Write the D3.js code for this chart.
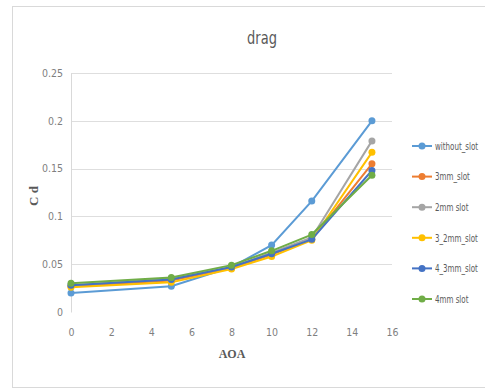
<!DOCTYPE html>
<html>
<head>
<meta charset="utf-8">
<script src="https://cdn.jsdelivr.net/npm/d3@7"></script>
<style>
  body { margin: 0; background: #fff; }
  svg text { font-family: "Liberation Sans Narrow", "DejaVu Sans Condensed", "Liberation Sans", sans-serif; }
</style>
</head>
<body>
<div id="graph"></div>
<script>
const aoa = [0, 5, 8, 10, 12, 15];
const seriesNames = ["without_slot", "3mm_slot", "2mm_slot", "3_2mm_slot", "4_3mm_slot", "4mm_slot"];
const legendLabels = ["without_slot", "3mm_slot", "2mm  slot", "3_2mm_slot", "4_3mm_slot", "4mm  slot"];
const withoutSlot = [0.020, 0.027, 0.047, 0.070, 0.116, 0.200];
const slot3mm     = [0.027, 0.033, 0.046, 0.060, 0.076, 0.155];
const slot2mm     = [0.028, 0.035, 0.047, 0.062, 0.078, 0.179];
const slot3_2mm   = [0.026, 0.031, 0.045, 0.058, 0.075, 0.167];
const slot4_3mm   = [0.028, 0.034, 0.047, 0.061, 0.076, 0.148];
const slot4mm     = [0.030, 0.036, 0.049, 0.064, 0.081, 0.143];
const colors = ["#5b9bd5", "#ed7d31", "#a5a5a5", "#ffc000", "#4472c4", "#70ad47"];
const xTicks = [0, 2, 4, 6, 8, 10, 12, 14, 16];
const yTicks = [0, 0.05, 0.1, 0.15, 0.2, 0.25];

const allValues = [withoutSlot, slot3mm, slot2mm, slot3_2mm, slot4_3mm, slot4mm];
const series = seriesNames.map((name, i) => ({
  name: name,
  label: legendLabels[i],
  color: colors[i],
  points: aoa.map((a, j) => ({ x: a, y: allValues[i][j] }))
}));

const width = 485, height = 389;
const margin = { left: 71, right: 94, top: 72, bottom: 77 };

const svg = d3.select("#graph").append("svg")
  .attr("width", width)
  .attr("height", height);

// chart frame
svg.append("rect")
  .attr("x", 12.5).attr("y", 6.5)
  .attr("width", 480).attr("height", 381)
  .attr("fill", "#fff")
  .attr("stroke", "#d9d9d9");

const x = d3.scaleLinear().domain([0, 16]).range([margin.left, width - margin.right + 1]);
const y = d3.scaleLinear().domain([0, 0.25]).range([height - margin.bottom, margin.top + 1]);

// gridlines
svg.append("g")
  .selectAll("line")
  .data(yTicks.filter(d => d > 0))
  .join("line")
  .attr("x1", x(0)).attr("x2", x(16))
  .attr("y1", d => Math.round(y(d)) + 0.5)
  .attr("y2", d => Math.round(y(d)) + 0.5)
  .attr("stroke", "#dedede");

// y axis
const yAxis = svg.append("g")
  .attr("transform", `translate(${x(0)},0)`)
  .call(d3.axisLeft(y).tickValues(yTicks).tickSize(0).tickPadding(8)
    .tickFormat(d => d3.format("")(+d.toFixed(2))));
yAxis.select(".domain").attr("stroke", "#d9d9d9");
yAxis.selectAll("text").attr("fill", "#7f7f7f").style("font-size", "10.5px");

// x axis
const xAxis = svg.append("g")
  .attr("transform", `translate(0,${y(0) + 14})`)
  .call(d3.axisBottom(x).tickValues(xTicks).tickSize(0));
xAxis.select(".domain").remove();
xAxis.selectAll("text").attr("fill", "#7f7f7f").style("font-size", "10.5px");

// lines and markers
const line = d3.line().x(d => x(d.x)).y(d => y(d.y));
const g = svg.append("g");
series.forEach(s => {
  g.append("path")
    .datum(s.points)
    .attr("d", line)
    .attr("fill", "none")
    .attr("stroke", s.color)
    .attr("stroke-width", 2);
  g.selectAll(null)
    .data(s.points)
    .join("circle")
    .attr("cx", d => x(d.x))
    .attr("cy", d => y(d.y))
    .attr("r", 3.5)
    .attr("fill", s.color);
});

// title
svg.append("text")
  .attr("transform", "translate(262,44) scale(0.85,1)")
  .attr("text-anchor", "middle")
  .style("font-size", "17px")
  .attr("fill", "#595959")
  .text("drag");

// axis titles
svg.append("text")
  .attr("transform", "translate(38,196) rotate(-90)")
  .attr("text-anchor", "middle")
  .style("font-family", "'Liberation Serif', serif")
  .style("font-weight", "bold")
  .style("font-size", "13px")
  .attr("fill", "#595959")
  .text("C d");

svg.append("text")
  .attr("x", 232).attr("y", 358)
  .attr("text-anchor", "middle")
  .style("font-family", "'Liberation Serif', serif")
  .style("font-weight", "bold")
  .style("font-size", "12px")
  .attr("fill", "#595959")
  .text("AOA");

// legend
const legend = svg.append("g")
  .selectAll("g")
  .data(series)
  .join("g")
  .attr("transform", (d, i) => `translate(412,${146 + i * 30.6})`);
legend.append("line")
  .attr("x1", 0).attr("x2", 20)
  .attr("stroke", d => d.color)
  .attr("stroke-width", 2);
legend.append("circle")
  .attr("cx", 10).attr("r", 3.5)
  .attr("fill", d => d.color);
legend.append("text")
  .attr("transform", "translate(23,0) scale(0.72,1)")
  .attr("dy", "0.35em")
  .style("font-size", "11px")
  .attr("fill", "#595959")
  .text(d => d.label);
</script>
</body>
</html>
